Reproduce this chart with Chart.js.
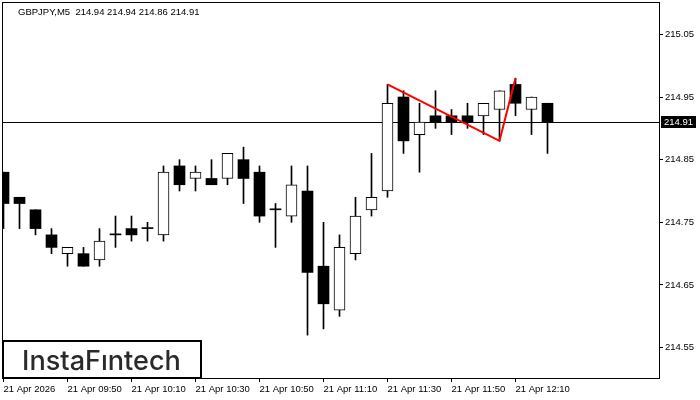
<!DOCTYPE html>
<html>
<head>
<meta charset="utf-8">
<script src="https://cdn.jsdelivr.net/npm/chart.js@4.4.1/dist/chart.umd.min.js"></script>
<style>
  html, body { margin: 0; padding: 0; background: #fff; }
  #wrap { width: 700px; height: 400px; }
</style>
</head>
<body>
<div id="wrap"><canvas id="grafico" width="700" height="400"></canvas></div>
<script>
// ==========================================
// DATOS DEL GRÁFICO (GBPJPY, M5)
// ==========================================
const simbolo = 'GBPJPY,M5';

const horas = ['09:30','09:35','09:40','09:45','09:50','09:55','10:00','10:05','10:10','10:15',
               '10:20','10:25','10:30','10:35','10:40','10:45','10:50','10:55','11:00','11:05',
               '11:10','11:15','11:20','11:25','11:30','11:35','11:40','11:45','11:50','11:55',
               '12:00','12:05','12:10','12:15','12:20'];

const apertura = [214.83, 214.79, 214.77, 214.73, 214.70, 214.70, 214.69, 214.73, 214.74, 214.74,
                  214.73, 214.84, 214.82, 214.82, 214.82, 214.85, 214.83, 214.77, 214.76, 214.80,
                  214.68, 214.61, 214.70, 214.77, 214.80, 214.95, 214.89, 214.92, 214.92, 214.92,
                  214.92, 214.93, 214.97, 214.93, 214.94];
const maximo   = [214.83, 214.79, 214.77, 214.74, 214.71, 214.71, 214.74, 214.76, 214.76, 214.75,
                  214.84, 214.85, 214.84, 214.85, 214.86, 214.87, 214.84, 214.78, 214.84, 214.84,
                  214.75, 214.73, 214.79, 214.86, 214.97, 214.96, 214.94, 214.96, 214.93, 214.94,
                  214.94, 214.96, 214.98, 214.95, 214.94];
const minimo   = [214.74, 214.74, 214.73, 214.70, 214.68, 214.68, 214.68, 214.71, 214.72, 214.72,
                  214.72, 214.80, 214.80, 214.81, 214.81, 214.78, 214.75, 214.71, 214.75, 214.57,
                  214.58, 214.60, 214.69, 214.76, 214.79, 214.86, 214.83, 214.90, 214.89, 214.90,
                  214.89, 214.88, 214.92, 214.89, 214.86];
const cierre   = [214.78, 214.78, 214.74, 214.71, 214.71, 214.68, 214.72, 214.73, 214.73, 214.74,
                  214.83, 214.81, 214.83, 214.81, 214.86, 214.82, 214.76, 214.77, 214.81, 214.67,
                  214.62, 214.71, 214.76, 214.79, 214.94, 214.88, 214.91, 214.91, 214.91, 214.91,
                  214.94, 214.96, 214.94, 214.95, 214.91];

// Etiquetas del eje de tiempo (una cada 4 velas)
const ejeXIdx = [0, 4, 8, 12, 16, 20, 24, 28, 32];
const ejeXEtiquetas = ['21 Apr 2026', '21 Apr 09:50', '21 Apr 10:10', '21 Apr 10:30', '21 Apr 10:50',
                       '21 Apr 11:10', '21 Apr 11:30', '21 Apr 11:50', '21 Apr 12:10'];
const ejeYValores = [214.55, 214.65, 214.75, 214.85, 214.95, 215.05];

// Patrón marcado en rojo (índice de vela, precio)
const patronIdx = [24, 31, 32];
const patronPrecio = [214.97, 214.88, 214.98];

// ==========================================
// ARMADO DE LOS DATASETS
// ==========================================
const fuente = '"Liberation Sans", Arial, sans-serif';
const ultimo = horas.length - 1;

const mechas = horas.map((h, i) => ({ x: i, y: [minimo[i], maximo[i]] }));
const velasBlancas = [];
const velasNegras = [];
horas.forEach((h, i) => {
    const punto = { x: i, y: [apertura[i], cierre[i]] };
    if (cierre[i] > apertura[i]) velasBlancas.push(punto);
    else velasNegras.push(punto);
});
const patron = patronIdx.map((v, k) => ({ x: v, y: patronPrecio[k] }));

// sin relleno extra de etiquetas: el área queda donde la fija el layout
function sinPadding(s) {
    s.paddingTop = 0; s.paddingBottom = 0;
    s.paddingLeft = 0; s.paddingRight = 0;
}

// Línea del precio actual (bid), detrás de las velas
const lineaPrecio = {
    id: 'lineaPrecio',
    beforeDatasetsDraw(chart) {
        const { ctx, chartArea, scales } = chart;
        const y = Math.floor(scales.y.getPixelForValue(cierre[ultimo])) + 0.5;
        ctx.save();
        ctx.strokeStyle = '#000';
        ctx.lineWidth = 1;
        ctx.beginPath();
        ctx.moveTo(chartArea.left, y);
        ctx.lineTo(chartArea.right, y);
        ctx.stroke();
        ctx.restore();
    }
};

// Marco, cabecera, etiqueta de precio y logo
const adornos = {
    id: 'adornos',
    afterDraw(chart) {
        const { ctx, chartArea, scales } = chart;
        ctx.save();

        // marco del área
        ctx.strokeStyle = '#000';
        ctx.lineWidth = 1;
        ctx.strokeRect(chartArea.left + 0.5, chartArea.top - 0.5,
                       chartArea.right - chartArea.left - 1, chartArea.bottom - chartArea.top);

        // cabecera con OHLC de la última vela
        ctx.fillStyle = '#000';
        ctx.font = '9.5px ' + fuente;
        ctx.textBaseline = 'alphabetic';
        ctx.textAlign = 'left';
        const txt = simbolo + '  ' + [apertura[ultimo], maximo[ultimo], minimo[ultimo], cierre[ultimo]]
            .map(v => v.toFixed(2)).join(' ');
        ctx.fillText(txt, 18, 14.5);

        // etiqueta del precio actual en el eje
        const yp = Math.floor(scales.y.getPixelForValue(cierre[ultimo]));
        ctx.fillStyle = '#000';
        ctx.fillRect(chartArea.right + 1, yp - 6, 35, 12);
        ctx.fillStyle = '#fff';
        ctx.textBaseline = 'middle';
        ctx.fillText(cierre[ultimo].toFixed(2), chartArea.right + 4, yp + 0.5);

        // logo
        ctx.fillStyle = '#fff';
        ctx.fillRect(3, 341, 198, 37);
        ctx.lineWidth = 2;
        ctx.strokeStyle = '#000';
        ctx.strokeRect(3, 341, 198, 37);
        const logo = 'InstaF\u0131ntech';
        ctx.font = '500 30px Inter, "Noto Sans", sans-serif';
        const tam = 30 * 159 / ctx.measureText(logo).width;
        ctx.font = '500 ' + tam.toFixed(1) + 'px Inter, "Noto Sans", sans-serif';
        ctx.fillStyle = '#2a2a2a';
        ctx.textBaseline = 'alphabetic';
        ctx.fillText(logo, 22, 370);

        ctx.restore();
    }
};

new Chart(document.getElementById('grafico'), {
    type: 'bar',
    data: {
        datasets: [
            {
                type: 'line',
                data: patron,
                borderColor: '#ff0000',
                borderWidth: 2,
                pointRadius: 0,
                tension: 0,
                order: 0
            },
            {
                data: velasBlancas,
                backgroundColor: '#ffffff',
                borderColor: '#000000',
                borderWidth: 1,
                borderSkipped: false,
                barThickness: 11,
                grouped: false,
                order: 1
            },
            {
                data: velasNegras,
                backgroundColor: '#000000',
                borderWidth: 0,
                barThickness: 11,
                minBarLength: 1,
                grouped: false,
                order: 1
            },
            {
                data: mechas,
                backgroundColor: '#000000',
                borderWidth: 0,
                barThickness: 1,
                grouped: false,
                order: 3
            }
        ]
    },
    options: {
        responsive: false,
        animation: false,
        layout: { padding: { left: 2, top: 3, right: 0, bottom: 0 } },
        plugins: { legend: { display: false }, tooltip: { enabled: false } },
        scales: {
            x: {
                type: 'linear',
                offset: false,
                min: -0.09375,
                max: 41.03125,
                afterBuildTicks: s => { s.ticks = ejeXIdx.map(v => ({ value: v })); },
                afterFit: s => { s.height = 21; sinPadding(s); },
                border: { display: false },
                grid: { drawOnChartArea: false, drawTicks: true, tickLength: 3, color: '#000', offset: false },
                ticks: {
                    autoSkip: false,
                    maxRotation: 0,
                    align: 'start',
                    padding: 2,
                    color: '#000',
                    font: { family: fuente, size: 9.5 },
                    callback: (v, i) => ejeXEtiquetas[i]
                }
            },
            y: {
                position: 'right',
                min: 214.5,
                max: 215.1,
                afterBuildTicks: s => { s.ticks = ejeYValores.map(v => ({ value: v })); },
                afterFit: s => { s.width = 40; sinPadding(s); },
                border: { display: false },
                grid: { drawOnChartArea: false, drawTicks: true, tickLength: 3, color: '#000' },
                ticks: {
                    padding: 2,
                    color: '#000',
                    font: { family: fuente, size: 9.5 },
                    callback: v => Number(v).toFixed(2)
                }
            }
        }
    },
    plugins: [lineaPrecio, adornos]
});
</script>
</body>
</html>
